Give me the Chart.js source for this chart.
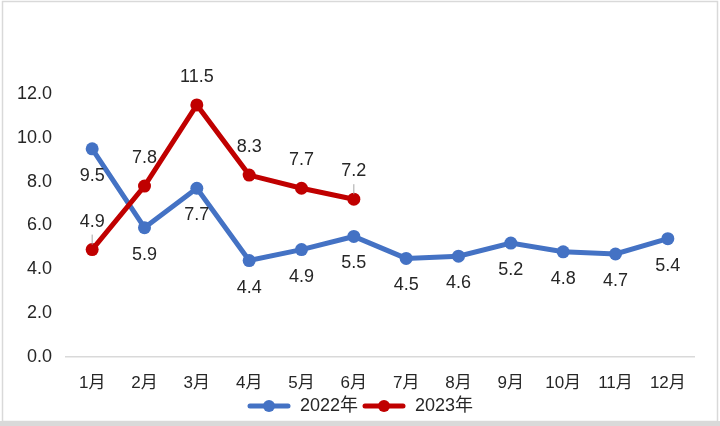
<!DOCTYPE html>
<html><head><meta charset="utf-8">
<script src="https://cdn.jsdelivr.net/npm/chart.js@4/dist/chart.umd.min.js"></script>
<style>html,body{margin:0;padding:0;background:#fff;}#wrap{width:720px;height:426px;position:relative;}</style>
</head><body><div id="wrap"><canvas id="c" width="720" height="426"></canvas></div>
<script>
const categories = ['1月','2月','3月','4月','5月','6月','7月','8月','9月','10月','11月','12月'];
const series2022 = [9.5, 5.9, 7.7, 4.4, 4.9, 5.5, 4.5, 4.6, 5.2, 4.8, 4.7, 5.4];
const series2023 = [4.9, 7.8, 11.5, 8.3, 7.7, 7.2, null, null, null, null, null, null];
const yTicks = [0, 2, 4, 6, 8, 10, 12];
const seriesNames = ['2022年', '2023年'];

const BLUE = '#4472C4', RED = '#C00000';
const FONT = '"Liberation Sans", Arial, "Noto Sans CJK SC", sans-serif';

function legendMarker(color){
  const cv = document.createElement('canvas');
  cv.width = 44; cv.height = 14;
  const g = cv.getContext('2d');
  g.strokeStyle = color; g.lineWidth = 5; g.lineCap = 'round';
  g.beginPath(); g.moveTo(3,7); g.lineTo(41,7); g.stroke();
  g.fillStyle = color; g.beginPath(); g.arc(22,7,6,0,Math.PI*2); g.fill();
  return cv;
}

const frame = {
  id:'frame',
  beforeDraw(chart){
    const c = chart.ctx;
    c.save();
    c.fillStyle = '#fff'; c.fillRect(0,0,720,426);
    c.fillStyle = '#d9d9d9'; c.fillRect(0,421,720,5);
    c.strokeStyle = '#d9d9d9'; c.lineWidth = 1.5;
    c.strokeRect(2.5,1.5,715,420);
    c.restore();
  }
};

const labels = {
  id:'labels',
  afterDatasetsDraw(chart){
    const c = chart.ctx;
    c.save();
    c.font = '18px ' + FONT;
    c.fillStyle = '#262626';
    c.textAlign = 'center'; c.textBaseline = 'middle';
    chart.data.datasets.forEach((ds, di) => {
      const meta = chart.getDatasetMeta(di);
      meta.data.forEach((pt, i) => {
        const v = ds.data[i];
        if (v === null || v === undefined) return;
        const off = di === 0 ? 27 : -28;
        c.fillText(v.toFixed(1), pt.x, pt.y + off);
        if (di === 1 && (i === 0 || i === 5)) {
          c.strokeStyle = '#a6a6a6'; c.lineWidth = 1;
          c.beginPath(); c.moveTo(pt.x, pt.y - 15); c.lineTo(pt.x, pt.y - 5); c.stroke();
        }
      });
    });
    c.restore();
  }
};

new Chart(document.getElementById('c'), {
  type:'line',
  data:{
    labels: categories,
    datasets:[
      {label: seriesNames[0], data: series2022, borderColor: BLUE, backgroundColor: BLUE,
       borderWidth: 5, pointRadius: 6.5, pointHoverRadius: 6.5, pointBorderWidth: 0,
       tension: 0, order: 2, pointStyle: 'circle'},
      {label: seriesNames[1], data: series2023, borderColor: RED, backgroundColor: RED,
       borderWidth: 5, pointRadius: 6.5, pointHoverRadius: 6.5, pointBorderWidth: 0,
       tension: 0, order: 1, spanGaps: false, pointStyle: 'circle'}
    ]
  },
  options:{
    responsive:false, animation:false,
    devicePixelRatio: 1,
    layout:{padding:{top:94, right:0, bottom:1, left:0}},
    plugins:{
      legend:{
        position:'bottom',
        labels:{
          usePointStyle:true, pointStyleWidth:44, boxHeight:14,
          generateLabels(chart){
            return chart.data.datasets.map((ds,i)=>({
              text: ds.label, fillStyle: ds.borderColor, strokeStyle: ds.borderColor,
              pointStyle: legendMarker(ds.borderColor), lineWidth:0, datasetIndex:i, hidden:false,
              fontColor:'#262626'
            }));
          },
          font:{size:18, family:FONT}, color:'#262626', padding:4
        }
      },
      tooltip:{enabled:false}
    },
    scales:{
      x:{
        offset:true,
        grid:{display:false, drawTicks:false, offset:true},
        border:{display:true, color:'#d9d9d9', width:1.5},
        ticks:{font:{size:17, family:FONT}, color:'#262626', padding:16, maxRotation:0, autoSkip:false},
        afterFit(s){ s.height = 36; }
      },
      y:{
        min:0, max:12,
        grid:{display:false, drawTicks:false},
        border:{display:false},
        afterBuildTicks(s){ s.ticks = yTicks.map(v=>({value:v})); },
        ticks:{font:{size:18, family:FONT}, color:'#262626', padding:14,
          callback:(v)=>Number(v).toFixed(1)},
        afterFit(s){ s.width = 66; }
      },
      yRight:{
        position:'right', min:0, max:12,
        grid:{display:false, drawTicks:false},
        border:{display:false},
        ticks:{display:false},
        afterFit(s){ s.width = 26; }
      }
    }
  },
  plugins:[frame, labels]
});
</script></body></html>
